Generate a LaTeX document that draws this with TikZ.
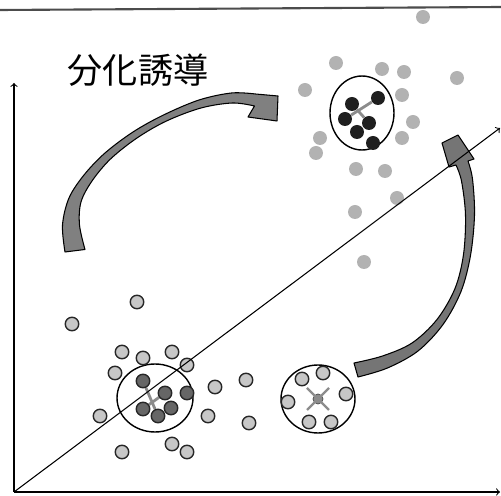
\documentclass[tikz,border=0pt]{standalone}
\usepackage{fontspec}
\newfontfamily\jpfont{Noto Sans CJK JP}
\usetikzlibrary{shapes.geometric,backgrounds}
\tikzset{
  freecell/.style={circle,fill=black!30,minimum size=0.28cm,inner sep=0pt},
  diffcell/.style={circle,fill=black!88,minimum size=0.28cm,inner sep=0pt},
  stemcell/.style={circle,draw=black!85,line width=0.8pt,fill=black!22,minimum size=0.27cm,inner sep=0pt},
  corecell/.style={circle,draw=black!85,line width=0.8pt,fill=black!60,minimum size=0.27cm,inner sep=0pt},
  colony/.style={ellipse,draw,line width=0.8pt,inner sep=0pt},
  link/.style={black!45,line width=1.6pt},
  bigarrow/.style={fill=black!50,draw=black,line width=0.6pt,line join=round},
  axis/.style={->,line width=0.6pt}
}

\begin{document}
\begin{tikzpicture}[x=0.02cm,y=-0.02cm]
\useasboundingbox (0,0) rectangle (501,496);
% rule along the top edge
\draw[black!70,line width=1.2pt] (0,10) -- (501,7);

\node[font=\jpfont\fontsize{20}{24}\selectfont] (title) at (138,70) {分化誘導};

% colonies
\node[colony,minimum width=1.28cm,minimum height=1.48cm] (top) at (362,113) {};
\node[colony,minimum width=1.52cm,minimum height=1.36cm] (start) at (155,398) {};
\node[colony,minimum width=1.48cm,minimum height=1.36cm] (rest) at (318,399) {};

% cells after induction
\foreach \x/\y [count=\i] in {423/17,336/63,382/69,404/72,457/78,305/90,402/95,413/122,
  402/138,320/138,316/153,356/169,385/171,397/198,355/212,364/262}
  \node[freecell] (f\i) at (\x,\y) {};
\foreach \x/\y [count=\i] in {378/98,352/104,345/119,369/123,357/132,373/143}
  \node[diffcell] (d\i) at (\x,\y) {};

% cells before induction
\foreach \x/\y [count=\i] in {137/302,72/324,122/352,143/358,172/352,115/373,187/365,
  215/387,246/380,100/416,208/416,249/423,122/452,172/444,187/452}
  \node[stemcell] (b\i) at (\x,\y) {};
\foreach \x/\y [count=\i] in {143/381,165/393,187/393,143/409,158/416,171/408}
  \node[corecell] (c\i) at (\x,\y) {};

% colony that lost its core
\foreach \x/\y [count=\i] in {323/373,302/379,288/402,346/394,309/422,331/422}
  \node[stemcell] (s\i) at (\x,\y) {};
\node[circle,fill=black!45,draw=black!70,minimum size=0.2cm,inner sep=0pt] (lost) at (rest.center) {};
\draw[link,line width=1.3pt] ([shift={(-11,-11)}]lost.center) -- ([shift={(11,11)}]lost.center);
\draw[link,line width=1.3pt] ([shift={(11,-11)}]lost.center) -- ([shift={(-11,11)}]lost.center);

\begin{scope}[on background layer]
\draw[link] (d1) -- (d3);
\draw[link] (d2) -- (d4);
\draw[link] (c1) -- (c5);
\draw[link] (c2) -- (c4);
\end{scope}

% the two curved block arrows
\filldraw[bigarrow]
  plot[smooth,tension=0.55] coordinates {(65,252) (62.5,225) (69,198) (84,175) (105,153) (133,132) (163.5,115) (199,100) (231.5,93) (255.5,94)}
  -- (278,96) -- (277,121) -- (248,117) --
  plot[smooth,tension=0.55] coordinates {(254.5,106) (232.5,103) (201,108) (166.5,121) (137,138) (110.5,159) (92,181) (81,202) (79.5,225) (85,249.5)}
  -- cycle;
\filldraw[bigarrow,fill=black!54]
  plot[smooth,tension=0.55] coordinates {(358,377) (387.5,368) (418,351) (443,324.5) (461,291.5) (470.5,255.5) (474.5,215) (472.5,179) (468,161)}
  -- (474,159) -- (458,135) -- (442,143) -- (449,167) --
  plot[smooth,tension=0.55] coordinates {(456,165) (461.5,181) (465.5,215) (463.5,254.5) (455,288.5) (437,319.5) (412,343) (382.5,356) (354,363)}
  -- cycle;

% axes
\coordinate (o) at (14,492);
\coordinate (ytip) at (14,83);
\coordinate (xtip) at (500,492);
\coordinate (dtip) at (500,128);
\draw[axis] (o) -- (ytip);
\draw[axis] (o) -- (xtip);
\draw[axis] (o) -- (dtip);
\end{tikzpicture}
\end{document}
